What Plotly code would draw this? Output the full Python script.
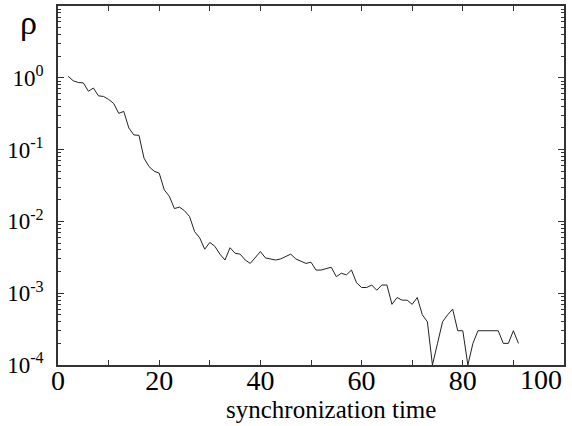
import plotly.graph_objects as go

sync_time = list(range(2, 92))
rho = [1.05, 0.91, 0.86, 0.85, 0.65, 0.72, 0.56, 0.55, 0.50, 0.44,
       0.32, 0.34, 0.20, 0.16, 0.158, 0.076, 0.058, 0.050, 0.047, 0.0275,
       0.0224, 0.0151, 0.0158, 0.0141, 0.0117, 0.0072, 0.0059, 0.0041, 0.0051, 0.0045,
       0.0035, 0.0029, 0.0043, 0.0036, 0.0035, 0.0029, 0.0026, 0.0032, 0.0038, 0.0031,
       0.0030, 0.0029, 0.0030, 0.0032, 0.0035, 0.0030, 0.0028, 0.0026, 0.0027, 0.0021,
       0.0021, 0.0022, 0.0023, 0.0017, 0.0019, 0.0018, 0.0021, 0.0014, 0.0012, 0.0012,
       0.0013, 0.0011, 0.0013, 0.0013, 0.0007, 0.00087, 0.0008, 0.0008, 0.0007, 0.00087,
       0.0005, 0.0004, 0.0001, 0.0002, 0.0004, 0.0005, 0.0006, 0.0003, 0.0003, 0.0001,
       0.0002, 0.0003, 0.0003, 0.0003, 0.0003, 0.0003, 0.0002, 0.0002, 0.0003, 0.0002]

y_tickvals = [1e-4, 1e-3, 1e-2, 1e-1, 1e0]
y_ticktext = ["10<sup>-4</sup>", "10<sup>-3</sup>", "10<sup>-2</sup>", "10<sup>-1</sup>", "10<sup>0</sup>"]
x_tickvals = [0, 20, 40, 60, 80, 100]
x_ticktext = ["0", "20", "40", "60", "80", ""]
x_last_label = "100"

font_family = "Liberation Serif, Times New Roman, serif"

fig = go.Figure()
fig.add_trace(go.Scatter(x=sync_time, y=rho, mode="lines",
                         line=dict(color="#222222", width=1), showlegend=False))

fig.update_layout(
    width=572, height=426,
    margin=dict(l=58, r=8, t=6, b=61),
    paper_bgcolor="white", plot_bgcolor="white",
    font=dict(family=font_family, color="black", size=22),
)
fig.update_xaxes(
    range=[0, 100], tickvals=x_tickvals, ticktext=x_ticktext,
    ticks="inside", ticklen=5, ticklabelstandoff=-10, ticklabeloverflow="allow",
    tickcolor="#333333", showgrid=False, zeroline=False, automargin=False,
    showline=True, linecolor="#333333", linewidth=1.5, mirror="allticks",
    tickfont=dict(size=28, family=font_family),
    minor=dict(dtick=10, ticks="inside", ticklen=5, tickcolor="#333333"),
)
fig.update_yaxes(
    type="log", range=[-4, 1], tickvals=y_tickvals, ticktext=y_ticktext,
    ticks="inside", ticklen=6, tickcolor="#333333", showgrid=False, zeroline=False,
    automargin=False, ticklabelstandoff=8, ticklabeloverflow="allow",
    showline=True, linecolor="#333333", linewidth=1.5, mirror="allticks",
    tickfont=dict(size=23, family=font_family),
    minor=dict(dtick="D1", ticks="inside", ticklen=3, tickcolor="#333333"),
)
fig.add_annotation(text=x_last_label, xref="paper", yref="paper", x=0.9996, y=0.009,
                   xanchor="right", yanchor="top", showarrow=False,
                   font=dict(size=28, family=font_family, color="black"))
fig.add_annotation(text="ρ", xref="paper", yref="paper", x=-0.059, y=0.953,
                   xanchor="center", yanchor="middle", showarrow=False,
                   font=dict(size=34, family=font_family, color="black"))
fig.add_annotation(text="synchronization time", xref="paper", yref="paper",
                   x=0.54, y=-0.1226, xanchor="center", yanchor="middle", showarrow=False,
                   font=dict(size=25, family=font_family, color="black"))

fig.write_html("out.html", config={"displayModeBar": False},
               post_script="document.body.style.margin='0';document.body.style.overflow='hidden';")
